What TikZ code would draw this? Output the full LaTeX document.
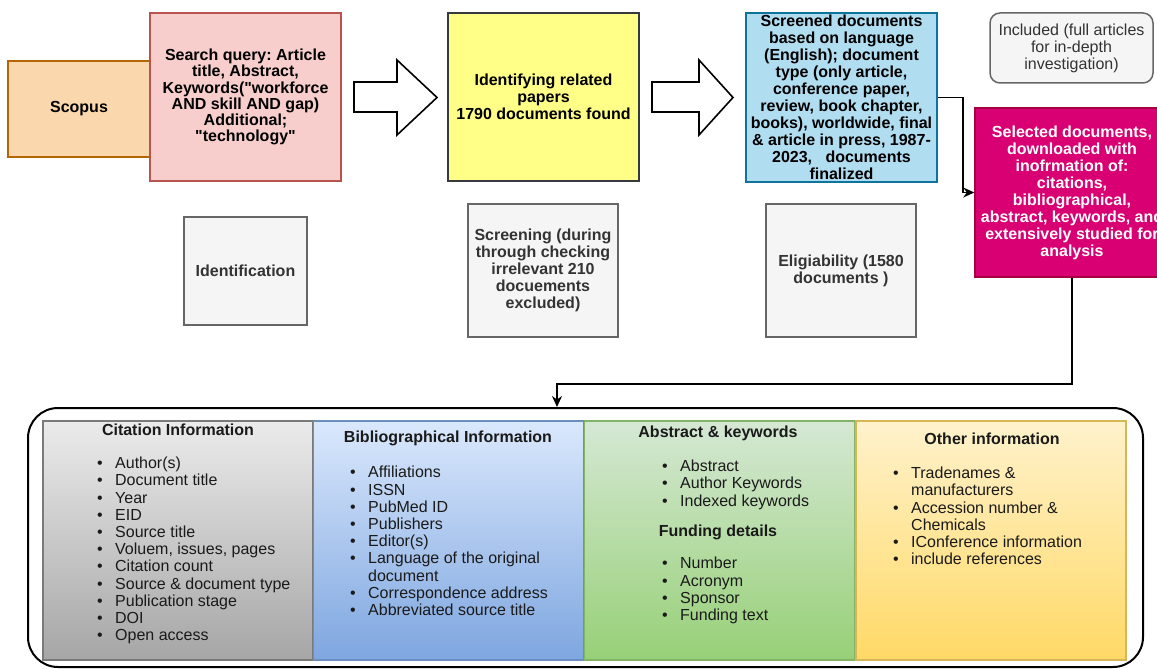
\documentclass[tikz,border=0pt]{standalone}
\usepackage{fontspec}
\setmainfont{Liberation Sans}
\usetikzlibrary{arrows.meta}
\frenchspacing

\definecolor{scopusfill}{HTML}{FAD7AC}
\definecolor{scopusline}{HTML}{B46504}
\definecolor{queryfill}{HTML}{F8CECC}
\definecolor{queryline}{HTML}{B85450}
\definecolor{paperfill}{HTML}{FFFF88}
\definecolor{paperline}{HTML}{36393D}
\definecolor{screenfill}{HTML}{B1DDF0}
\definecolor{screenline}{HTML}{10739E}
\definecolor{selectfill}{HTML}{D80073}
\definecolor{selectline}{HTML}{A50040}
\definecolor{boxgrey}{HTML}{F5F5F5}
\definecolor{greyline}{HTML}{666666}
\definecolor{greytext}{HTML}{333333}
\definecolor{coltext}{HTML}{1A1A1A}
\definecolor{citetop}{HTML}{EBEBEB}
\definecolor{citebot}{HTML}{A6A6A6}
\definecolor{citeline}{HTML}{7A7A7A}
\definecolor{bibtop}{HTML}{DAE8FC}
\definecolor{bibbot}{HTML}{7EA6E0}
\definecolor{bibline}{HTML}{6C8EBF}
\definecolor{abstop}{HTML}{D5E8D4}
\definecolor{absbot}{HTML}{97D077}
\definecolor{absline}{HTML}{82B366}
\definecolor{othtop}{HTML}{FFF2CC}
\definecolor{othbot}{HTML}{FFD966}
\definecolor{othline}{HTML}{D6B656}

\newcommand{\bul}{\makebox[18pt][l]{\textbullet}}
\newcommand{\ind}{\hspace*{18pt}}

\begin{document}
\begin{tikzpicture}[x=1pt, y=-1pt,
	box/.style={draw, line width=1.5pt, align=center, inner sep=2pt, font=\fontsize{16}{17}\selectfont\bfseries},
	greybox/.style={box, fill=boxgrey, draw=greyline, text=greytext},
	colbox/.style={draw, line width=1.2pt, minimum width=270, minimum height=239, inner sep=0pt},
	coltitle/.style={inner sep=0pt, text=coltext, font=\fontsize{16}{17}\selectfont\bfseries},
	collist/.style={align=left, anchor=north west, inner sep=0pt, text=coltext, font=\fontsize{16}{17.2}\selectfont},
	conn/.style={line width=1.6pt, -{Stealth[length=11pt,width=10pt]}},
	bigarrow/.style={draw, line width=1.6pt, fill=white, line join=miter}]
	\useasboundingbox (0,0) rectangle (1157,669);
	\clip (0,0) rectangle (1157,669);

	% top row
	\node[box, fill=scopusfill, draw=scopusline, minimum width=142, minimum height=96] (scopus) at (79,109) {Scopus};
	\node[box, fill=queryfill, draw=queryline, minimum width=191, minimum height=168, font=\fontsize{16}{16.2}\selectfont\bfseries] (query) at (245.5,97) {Search query: Article\\ title, Abstract,\\ Keywords(\textquotedbl workforce\\ AND skill AND gap)\\ Additional;\\ \textquotedbl technology\textquotedbl};
	\node[box, fill=paperfill, draw=paperline, minimum width=191, minimum height=168] (papers) at (543.5,97) {Identifying related\\ papers\\ 1790 documents found};
	\node[box, fill=screenfill, draw=screenline, minimum width=191, minimum height=169] (screened) at (841.5,97.5) {Screened documents\\ based on language\\ (English); document\\ type (only article,\\ conference paper,\\ review, book chapter,\\ books), worldwide, final\\ \& article in press, 1987-\\ 2023,\ \ \ documents\\ finalized};
	\node[greybox, rounded corners=10, minimum width=163, minimum height=70, font=\fontsize{16}{17}\selectfont] (included) at (1071.5,48) {Included (full articles\\ for in-depth\\ investigation)};
	\node[box, fill=selectfill, draw=selectline, text=white, minimum width=194, minimum height=169] (selected) at (1072,192.5) {Selected documents,\\ downloaded with\\ inofrmation of:\\ citations,\\ bibliographical,\\ abstract, keywords, and\\ extensively studied for\\ analysis};

	\foreach \xa/\xb/\xc in {354/397/437, 652/699/733}
		\draw[bigarrow] (\xa,82) -- (\xb,82) -- (\xb,60) -- (\xc,97.5) -- (\xb,135) -- (\xb,112) -- (\xa,112) -- cycle;

	% stage boxes
	\node[greybox, minimum width=123, minimum height=108] (ident) at (245.5,271) {Identification};
	\node[greybox, minimum width=150, minimum height=133] (screening) at (543,270.5) {Screening (during\\ through checking\\ irrelevant 210\\ docuements\\ excluded)};
	\node[greybox, minimum width=150, minimum height=133] (elig) at (841,270.5) {Eligiability (1580\\ documents )};

	% downloaded information
	\node[draw, line width=2pt, rounded corners=30, minimum width=1115, minimum height=259] (details) at (585.5,537.5) {};
	\foreach \name/\cx/\ctop/\cbot/\cline in {cite/178/citetop/citebot/citeline, biblio/448.5/bibtop/bibbot/bibline, abstr/719.5/abstop/absbot/absline, other/991/othtop/othbot/othline}
		\node[colbox, top color=\ctop, bottom color=\cbot, draw=\cline] (\name) at (\cx,540.5) {};

	\node[coltitle] (citehead) at (178,430) {Citation Information};
	\node[collist] (citelist) at (97,457) {\bul Author(s)\\ \bul Document title\\ \bul Year\\ \bul EID\\ \bul Source title\\ \bul Voluem, issues, pages\\ \bul Citation count\\ \bul Source \& document type\\ \bul Publication stage\\ \bul DOI\\ \bul Open access};

	\node[coltitle] (bibhead) at (448,438) {Bibliographical Information};
	\node[collist] (biblist) at (350,466) {\bul Affiliations\\ \bul ISSN\\ \bul PubMed ID\\ \bul Publishers\\ \bul Editor(s)\\ \bul Language of the original\\ \ind document\\ \bul Correspondence address\\ \bul Abbreviated source title};

	\node[coltitle] (abshead) at (718,433) {Abstract \& keywords};
	\node[collist] (abslist) at (662,460) {\bul Abstract\\ \bul Author Keywords\\ \bul Indexed keywords};
	\node[coltitle] (fundhead) at (718,532) {Funding details};
	\node[collist] (fundlist) at (662,557) {\bul Number\\ \bul Acronym\\ \bul Sponsor\\ \bul Funding text};

	\node[coltitle] (othhead) at (992,439) {Other information};
	\node[collist] (othlist) at (893,467) {\bul Tradenames \&\\ \ind manufacturers\\ \bul Accession number \&\\ \ind Chemicals\\ \bul IConference information\\ \bul include references};

	% connectors
	\draw[conn] (screened.east) -- ++(25,0) |- (selected.west);
	\coordinate (bend) at (557,384);
	\draw[conn] (selected.south) |- (bend) -- (bend |- details.north);
\end{tikzpicture}
\end{document}
